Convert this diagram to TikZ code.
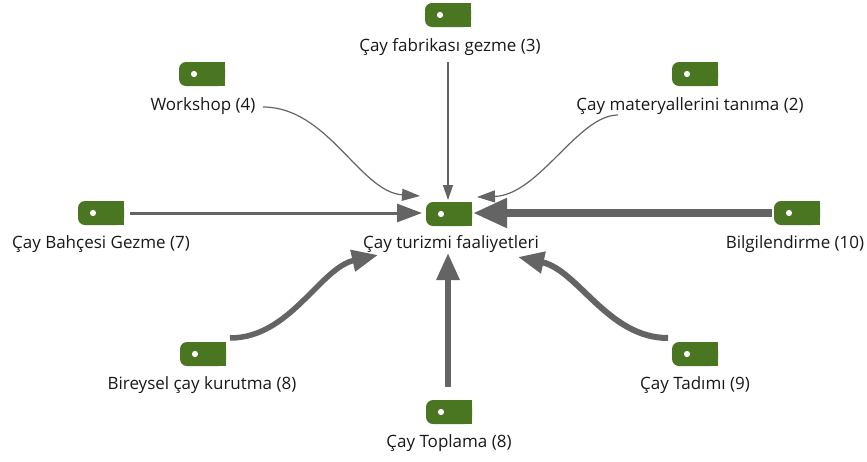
\documentclass[tikz,border=0pt]{standalone}
\usepackage{fontspec}
\setmainfont{Open Sans}
\usetikzlibrary{arrows.meta}
\definecolor{tagc}{RGB}{74,117,33}
\definecolor{edgec}{RGB}{100,100,100}
\definecolor{txt}{RGB}{25,25,25}
\begin{document}
\begin{tikzpicture}[x=1pt,y=-1pt,
  tag/.style={minimum width=46pt, minimum height=24pt, inner sep=0pt,
    path picture={
      \fill[tagc, rounded corners=7pt] (path picture bounding box.south west) rectangle (path picture bounding box.north east);
      \fill[tagc] (path picture bounding box.south) rectangle (path picture bounding box.north east);
      \fill[white] ([xshift=15pt]path picture bounding box.west) circle (3.1pt);
    }},
  lbl/.style={font=\fontsize{17}{20}\selectfont, text=txt, inner sep=0pt},
  ed/.style={draw=edgec, line width=#1},
]
\useasboundingbox[fill=white] (0,0) rectangle (867,461);

% tags
\node[tag] (c)   at (449,214) {};
\node[tag] (fab) at (448,15) {};
\node[tag] (wrk) at (202,74) {};
\node[tag] (mat) at (695,74) {};
\node[tag] (bah) at (101,213) {};
\node[tag] (bil) at (797,213) {};
\node[tag] (bir) at (203,354) {};
\node[tag] (tad) at (695,354) {};
\node[tag] (top) at (449,412) {};

% labels
\node[lbl] (cL)   at (451,244) {Çay turizmi faaliyetleri};
\node[lbl] (fabL) at (450,47)  {Çay fabrikası gezme (3)};
\node[lbl] (wrkL) at (203,106) {Workshop (4)};
\node[lbl] (matL) at (690,106) {Çay materyallerini tanıma (2)};
\node[lbl] (bahL) at (101,244) {Çay Bahçesi Gezme (7)};
\node[lbl] (bilL) at (795,244) {Bilgilendirme (10)};
\node[lbl] (birL) at (202,385) {Bireysel çay kurutma (8)};
\node[lbl] (tadL) at (695,385) {Çay Tadımı (9)};
\node[lbl] (topL) at (449,443) {Çay Toplama (8)};

% connectors
\draw[ed=1.2pt, -{Triangle[length=15pt,width=10pt]}]
  ([shift={(0,47)}]fab.center) -- ([shift={(-1,-14)}]c.center);
\draw[ed=1.2pt, -{Triangle[length=18pt,width=12pt]}]
  ([shift={(61,33)}]wrk.center) .. controls +(65,0) and +(-60,-4) .. ([shift={(-29,-18)}]c.center);
\draw[ed=1.2pt, -{Triangle[length=18pt,width=12pt]}]
  ([shift={(-77,41)}]mat.center) .. controls +(-40,0) and +(62,-2) .. ([shift={(28,-17)}]c.center);
\draw[ed=3pt, -{Triangle[length=25pt,width=18pt]}]
  ([shift={(29,0)}]bah.center) -- ([shift={(-27,-1)}]c.center);
\draw[ed=8pt, -{Triangle[length=34pt,width=28pt]}]
  ([shift={(-25,0)}]bil.center) -- ([shift={(24,-1)}]c.center);
\draw[ed=6pt, -{Triangle[length=27pt,width=22pt]}]
  ([shift={(-1,-25)}]top.center) -- ([shift={(-1,39)}]c.center);
\draw[ed=5.5pt, -{Triangle[length=26pt,width=21pt]}]
  ([shift={(27,-16)}]bir.center) .. controls +(60,0) and +(-58,13) .. ([shift={(-71,41)}]c.center);
\draw[ed=6pt, -{Triangle[length=26pt,width=21pt]}]
  ([shift={(-27,-16)}]tad.center) .. controls +(-60,0) and +(60,13) .. ([shift={(69,43)}]c.center);
\end{tikzpicture}
\end{document}
